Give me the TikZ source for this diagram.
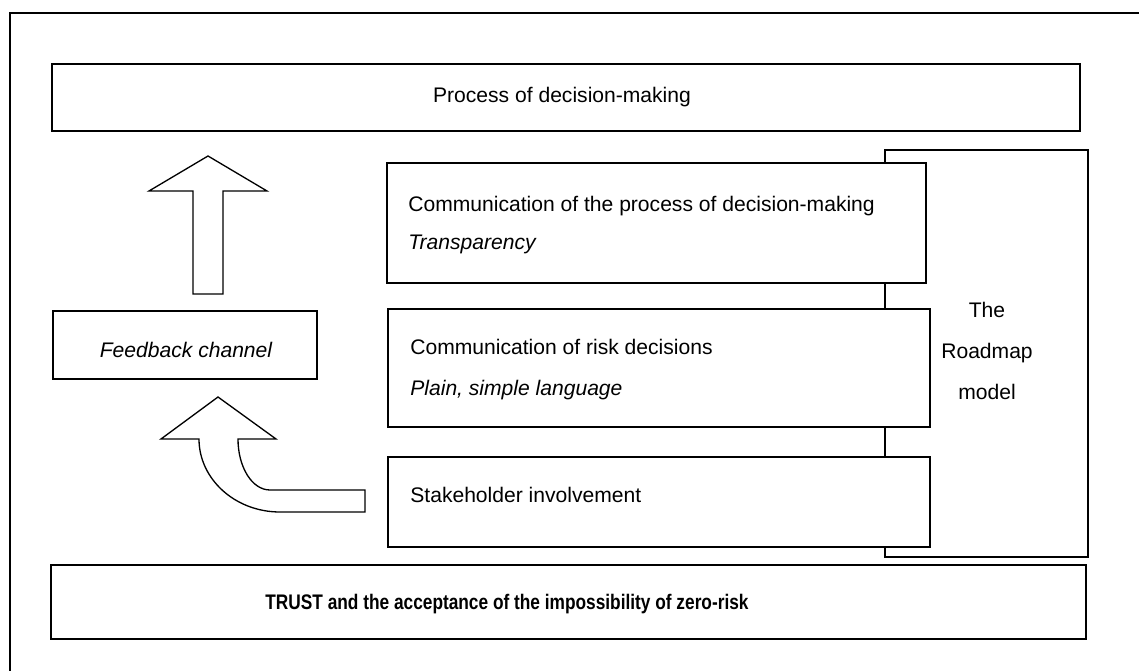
\documentclass[tikz,border=0pt]{standalone}
\usepackage{fontspec}
\setmainfont{Liberation Sans}
\newfontfamily\narrowfont[FakeStretch=0.82]{Liberation Sans}

\tikzset{
  boite/.style={draw, fill=white, line width=0.6pt},
  fleche/.style={draw, fill=white, line width=0.75pt, line join=miter},
  texte/.style={anchor=base west, inner sep=0pt, font=\fontsize{12}{14}\selectfont},
}

\begin{document}
\begin{tikzpicture}[x=0.02cm, y=-0.02cm]
  \useasboundingbox (0,0) rectangle (1139,671);

  % Cadre extérieur
  \draw[line width=0.9pt] (1139,13) -- (10,13) -- (10,671);

  % Boîte du haut
  \draw[boite] (52,64) rectangle (1080,131);
  \node[texte, anchor=base] (process) at (562,103) {Process of decision-making};

  % Roadmap model (derrière les trois boîtes)
  \draw[boite] (885,150) rectangle (1088,557);
  \node[texte, anchor=base] (the) at (987,318) {The};
  \node[texte, anchor=base] (roadmap) at (987,359) {Roadmap};
  \node[texte, anchor=base] (modele) at (987,400) {model};

  % Les trois boîtes de communication
  \draw[boite] (387,163) rectangle (926,283);
  \node[texte] (comproc) at (408,212) {Communication of the process of decision-making};
  \node[texte] (transp) at (408,250) {\itshape Transparency};

  \draw[boite] (388,309) rectangle (930,427);
  \node[texte] (comrisk) at (410,355) {Communication of risk decisions};
  \node[texte] (langage) at (410,396) {\itshape Plain, simple language};

  \draw[boite] (388,457) rectangle (930,547);
  \node[texte] (stake) at (410,503) {Stakeholder involvement};

  % Canal de retour
  \draw[boite] (53,311) rectangle (317,379);
  \node[texte, anchor=base] (feedback) at (186,358) {\itshape Feedback channel};

  % Boîte du bas
  \draw[boite] (51,565) rectangle (1086,639);
  \node[texte] (trust) at (265,610)
    {\narrowfont\bfseries TRUST and the acceptance of the impossibility of zero-risk};

  % Flèche droite
  \draw[fleche] (208,156) -- (267,191) -- (223,191) -- (223,294)
    -- (193,294) -- (193,191) -- (149,191) -- cycle;

  % Flèche courbe
  \draw[fleche] (218,397) -- (276,439) -- (238,439)
    .. controls (238,467) and (252,490) .. (270,490)
    -- (365,490) -- (365,512) -- (280,512)
    .. controls (235,512) and (199,479) .. (199,439)
    -- (161,439) -- cycle;

\end{tikzpicture}
\end{document}
